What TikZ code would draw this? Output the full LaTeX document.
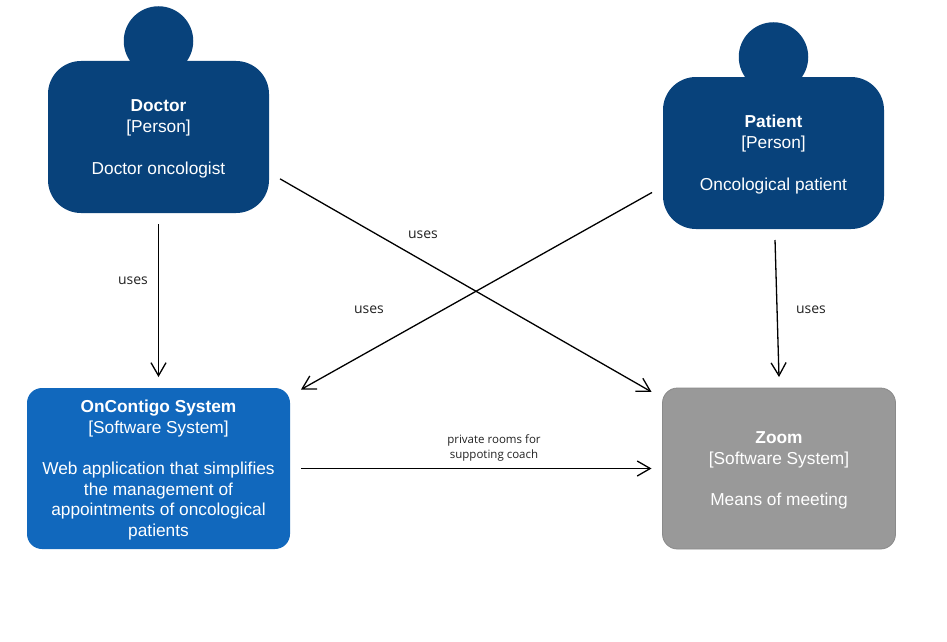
\documentclass[tikz,border=0pt]{standalone}
\usepackage{fontspec}
\setmainfont{Liberation Sans}
\newfontfamily\labelfont{Open Sans}
\usetikzlibrary{arrows.meta}
\definecolor{personblue}{HTML}{08427B}
\definecolor{systemblue}{HTML}{1168BD}
\definecolor{zoomgrey}{HTML}{999999}
\definecolor{zoomedge}{HTML}{8A8A8A}
\definecolor{labelink}{HTML}{222222}
\newcommand{\firstrow}{\rule{0pt}{15.5pt}}
\tikzset{
  boxtext/.style={text=white,align=center,inner sep=0pt,outer sep=11pt,
    font=\fontsize{17.3}{20.7}\selectfont},
  personbody/.style={boxtext,fill=personblue,rounded corners=33pt,minimum width=221pt,minimum height=152pt},
  personhead/.style={circle,fill=personblue,minimum size=69.5pt,inner sep=0pt},
  softbox/.style={boxtext,rounded corners=15pt,minimum height=161pt},
  rel/.style={draw=black,line width=1.3pt,-{Straight Barb[length=13pt,width=15pt,line width=1.3pt]}},
  rellabel/.style={text=labelink,inner sep=0pt,align=center,font=\labelfont\fontsize{14}{17}\selectfont},
  smalllabel/.style={rellabel,font=\labelfont\fontsize{11.5}{15}\selectfont}
}
\begin{document}
\begin{tikzpicture}[x=1pt,y=-1pt]
\useasboundingbox[fill=white] (0,0) rectangle (947,642);
\node[personhead] (dochead) at (158.5,41) {};
\node[personhead] (pathead) at (773.5,57) {};
\node[personbody] (doc) at (158.5,137) {\firstrow\textbf{Doctor}\\{[Person]}\\~\\Doctor oncologist};
\node[personbody] (pat) at (773.5,153) {\firstrow\textbf{Patient}\\{[Person]}\\~\\Oncological patient};
\node[softbox,fill=systemblue,minimum width=263pt] (sys) at (158.5,468.5)
  {\firstrow\textbf{OnContigo System}\\{[Software System]}\\~\\Web application that simplifies\\the management of\\appointments of oncological\\patients};
\node[softbox,fill=zoomgrey,draw=zoomedge,line width=0.8pt,minimum width=233pt] (zoom) at (779,468.5)
  {\firstrow\textbf{Zoom}\\{[Software System]}\\~\\Means of meeting};
\draw[rel] (doc.south) -- (sys.north);
\draw[rel] (pat.-89) -- (zoom.90.6);
\draw[rel] (doc.-19.5) -- (zoom.149.8);
\draw[rel] (pat.198.2) -- (sys.29.2);
\draw[rel] (sys.east) -- (zoom.west);
\node[rellabel] (l1) at (133,281) {uses};
\node[rellabel] (l2) at (423,235) {uses};
\node[rellabel] (l3) at (369,310) {uses};
\node[rellabel] (l4) at (811,310) {uses};
\node[smalllabel] (l5) at (494,448) {private rooms for\\suppoting coach};
\end{tikzpicture}
\end{document}
